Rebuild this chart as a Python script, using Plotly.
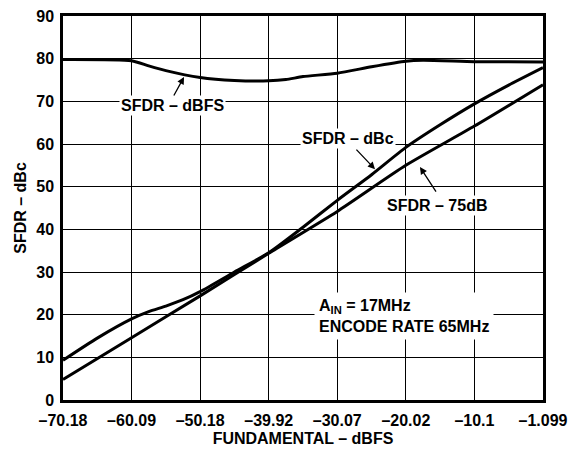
import plotly.graph_objects as go

tick_labels = ["–70.18", "–60.09", "–50.18", "–39.92", "–30.07", "–20.02", "–10.1", "–1.099"]
tick_pos = [0, 1, 2, 3, 4, 5, 6, 7]

dbfs_x = [0, 1, 1.25, 1.5, 2, 2.5, 3, 3.25, 3.5, 4, 4.5, 5, 5.25, 6, 7]
dbfs_y = [79.8, 79.5, 78.3, 77.2, 75.6, 74.9, 74.8, 75.1, 75.8, 76.6, 78.1, 79.4, 79.6, 79.3, 79.2]

dbc_x = [0, 0.5, 1, 1.25, 1.5, 1.75, 2, 2.5, 3, 3.5, 4, 4.5, 5, 5.5, 6, 6.5, 7]
dbc_y = [9.3, 14.5, 19.0, 20.7, 22.0, 23.5, 25.4, 30.0, 34.5, 40.5, 46.8, 52.8, 59.2, 64.5, 69.4, 73.8, 77.9]

ref_x = [0, 1, 2, 3, 4, 5, 6, 7]
ref_y = [4.8, 14.6, 24.4, 34.4, 44.2, 55.0, 64.2, 73.9]

FONT = "Liberation Sans, Arial, Helvetica, sans-serif"

fig = go.Figure()
for xs, ys in [(dbfs_x, dbfs_y), (dbc_x, dbc_y), (ref_x, ref_y)]:
    fig.add_trace(go.Scatter(x=xs, y=ys, mode="lines",
                             line=dict(color="black", width=3, shape="spline", smoothing=0.6),
                             showlegend=False, hoverinfo="skip"))

texts = [
    dict(x=1.597, y=69.0, text="SFDR – dBFS"),
    dict(x=4.149, y=61.2, text="SFDR – dBc"),
    dict(x=5.454, y=45.7, text="SFDR – 75dB"),
]
annotations = []
for t in texts:
    annotations.append(dict(x=t["x"], y=t["y"], xref="x", yref="y", text=t["text"],
                            showarrow=False, bgcolor="white", borderpad=1,
                            xanchor="center", yanchor="middle",
                            font=dict(size=16, color="black", family=FONT, weight="bold")))
annotations.append(dict(x=4.97, y=19.7, xref="x", yref="y",
                        text="A<sub style=\"font-size:14px\">IN</sub> = 17MHz<br>ENCODE RATE 65MHz",
                        showarrow=False, bgcolor="white", borderpad=4, align="left",
                        xanchor="center", yanchor="middle",
                        font=dict(size=16, color="black", family=FONT, weight="bold")))
arrows = [
    dict(x=1.765, y=75.7, ax=-11, ay=20),
    dict(x=4.55, y=54.1, ax=-20, ay=-21),
    dict(x=5.206, y=54.6, ax=17, ay=26),
]
for a in arrows:
    annotations.append(dict(x=a["x"], y=a["y"], xref="x", yref="y", text="",
                            showarrow=True, ax=a["ax"], ay=a["ay"],
                            arrowhead=2, arrowsize=1.1, arrowwidth=1.3,
                            arrowcolor="black", standoff=0))

fig.update_layout(
    width=579, height=449,
    margin=dict(l=63, r=36, t=16, b=49),
    paper_bgcolor="white", plot_bgcolor="white",
    font=dict(family=FONT, size=16, color="black", weight="bold"),
    annotations=annotations,
)
fig.update_xaxes(range=[0, 7], tickvals=tick_pos, ticktext=tick_labels,
                 showgrid=True, gridcolor="black", gridwidth=1.3,
                 showline=True, linecolor="black", linewidth=2.5, mirror=True,
                 ticks="", ticklabelstandoff=4, zeroline=False,
                 title=dict(text="FUNDAMENTAL – dBFS", standoff=5,
                            font=dict(size=16, family=FONT, weight="bold")),
                 automargin=False)
fig.update_yaxes(range=[0, 90], dtick=10, tick0=0,
                 showgrid=True, gridcolor="black", gridwidth=1.3,
                 showline=True, linecolor="black", linewidth=2.5, mirror=True,
                 ticks="", ticklabelstandoff=3, zeroline=False,
                 title=dict(text="SFDR – dBc", standoff=6,
                            font=dict(size=16, family=FONT, weight="bold")),
                 automargin=False)

fig.write_html("out.html", config={"displayModeBar": False},
               post_script="document.body.style.margin='0';document.body.style.overflow='hidden';")
